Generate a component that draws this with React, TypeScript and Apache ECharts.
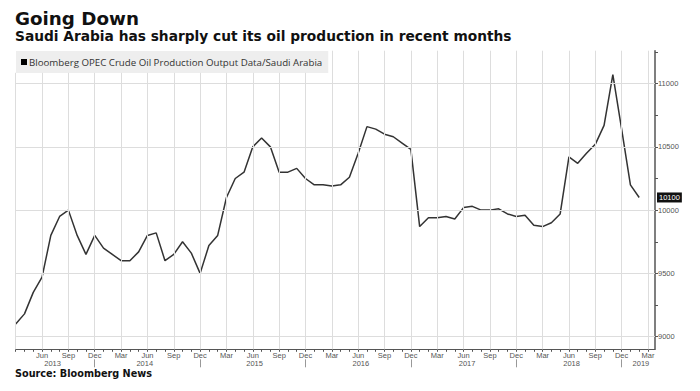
import React, { useEffect, useRef } from 'react';
import * as echarts from 'echarts';

const monthNames = ['Jan', 'Feb', 'Mar', 'Apr', 'May', 'Jun', 'Jul', 'Aug', 'Sep', 'Oct', 'Nov', 'Dec'];
const startMonthIndex = 2; // Mar 2013
const seriesName = 'Bloomberg OPEC Crude Oil Production Output Data/Saudi Arabia';

// Monthly values, Mar 2013 .. Feb 2019 (thousand barrels/day)
const production = [
  9100, 9180, 9350, 9470, 9800, 9950, 10000, 9800, 9650, 9800,
  9700, 9650, 9600, 9600, 9670, 9800, 9820, 9600, 9650, 9750, 9660, 9500,
  9720, 9800, 10100, 10250, 10300, 10500, 10570, 10500, 10300, 10300, 10330, 10250,
  10200, 10200, 10190, 10200, 10260, 10450, 10660, 10640, 10600, 10580, 10530, 10480,
  9870, 9940, 9940, 9950, 9930, 10020, 10030, 10000, 10000, 10010, 9970, 9950,
  9960, 9880, 9870, 9900, 9970, 10420, 10370, 10450, 10520, 10670, 11070, 10640,
  10200, 10100,
];

const yLabelValues = [9000, 9500, 10000, 10500, 11000];
const yTickValues = [9000, 9250, 9500, 9750, 10000, 10250, 10500, 10750, 11000, 11250];
const monthLabelIdx = [3, 6, 9, 12, 15, 18, 21, 24, 27, 30, 33, 36, 39, 42, 45, 48, 51, 54, 57, 60, 63, 66, 69, 72];
const vGridIdx = [0, 3, 6, 9, 12, 15, 18, 21, 24, 27, 30, 33, 36, 39, 42, 45, 48, 51, 54, 57, 60, 63, 66, 69, 72];
const yearLabels = ['2013', '2014', '2015', '2016', '2017', '2018', '2019'];
const yearLabelPos = [4.2, 14.7, 27.2, 39.3, 51.4, 63.3, 71.2];
const yearSeparatorIdx = [9, 21, 33, 45, 57, 69];
const lastValue = 10100;

const X_MAX = 72.8;
const Y_MIN = 8900;
const Y_MAX = 11260;
const LEGEND_LAST_IDX = 35; // vertical gridlines under the legend box stop below it
const LEGEND_BOTTOM_VALUE = 11085;
const AXIS_FONT = 'Liberation Sans';
const GRID_COLOR = '#dddddd';

export default function App() {
  const ref = useRef<HTMLDivElement>(null);
  useEffect(() => {
    if (!ref.current) return;
    const chart = echarts.init(ref.current, null, { renderer: 'svg' });
    const monthTicks = production.map((_, i) => i).concat([production.length]);
    const vLines = vGridIdx.map((x) =>
      x <= LEGEND_LAST_IDX
        ? [{ coord: [x, Y_MIN] }, { coord: [x, LEGEND_BOTTOM_VALUE] }]
        : { xAxis: x }
    );
    chart.setOption({
      animation: false,
      backgroundColor: '#ffffff',
      title: [
        {
          text: 'Going Down',
          subtext: 'Saudi Arabia has sharply cut its oil production in recent months',
          left: 10,
          top: 4,
          itemGap: 2,
          textStyle: { fontFamily: 'DejaVu Sans', fontWeight: 'bold', fontSize: 18.3, color: '#111' },
          subtextStyle: { fontFamily: 'DejaVu Sans', fontWeight: 'bold', fontSize: 13.75, color: '#111' },
        },
        {
          text: 'Source: Bloomberg News',
          left: 10,
          top: 363,
          textStyle: { fontFamily: 'DejaVu Sans', fontWeight: 'bold', fontSize: 9.7, color: '#111' },
        },
      ],
      legend: {
        data: [seriesName],
        left: 16,
        top: 51,
        icon: 'rect',
        itemWidth: 6,
        itemHeight: 6,
        padding: [6, 6, 6, 5],
        backgroundColor: '#eeeeee',
        textStyle: { fontFamily: 'Open Sans', fontSize: 9.7, color: '#333', padding: [0, 0, 0, -3] },
      },
      grid: { left: 15.7, right: 45, top: 50.7, bottom: 41.7, containLabel: false },
      xAxis: [
        {
          type: 'value',
          min: 0,
          max: X_MAX,
          interval: 3,
          axisLine: { show: true, onZero: false, lineStyle: { color: '#555', width: 1 } },
          axisTick: { show: true, customValues: monthTicks, length: 2.5, lineStyle: { color: '#555' } },
          axisLabel: {
            customValues: monthLabelIdx,
            formatter: (v: number) => monthNames[(startMonthIndex + Math.round(v)) % 12],
            fontFamily: AXIS_FONT,
            fontSize: 7.5,
            color: '#555',
            margin: 2,
          },
          splitLine: { show: false },
        },
        {
          type: 'value',
          min: 0,
          max: X_MAX,
          position: 'bottom',
          offset: 10,
          axisLine: { show: false, onZero: false },
          axisTick: { show: true, customValues: yearSeparatorIdx, length: 8, lineStyle: { color: '#999' } },
          axisLabel: {
            customValues: yearLabelPos,
            formatter: (v: number) => {
              let best = 0;
              yearLabelPos.forEach((p, i) => { if (Math.abs(p - v) < Math.abs(yearLabelPos[best] - v)) best = i; });
              return yearLabels[best];
            },
            fontFamily: AXIS_FONT,
            fontSize: 7.5,
            color: '#555',
            margin: 0,
          },
          splitLine: { show: false },
        },
      ],
      yAxis: {
        type: 'value',
        position: 'right',
        min: Y_MIN,
        max: Y_MAX,
        axisLine: { show: true, onZero: false, lineStyle: { color: '#555', width: 1.5 } },
        axisTick: { show: true, customValues: yTickValues, length: 3, lineStyle: { color: '#555' } },
        axisLabel: {
          customValues: yLabelValues,
          formatter: (v: number) => String(v),
          fontFamily: AXIS_FONT,
          fontSize: 7.5,
          color: '#555',
          margin: 3,
        },
        splitLine: { show: false },
      },
      series: [
        {
          name: 'gridlines',
          type: 'line',
          data: [],
          z: 1,
          silent: true,
          markLine: {
            silent: true,
            symbol: ['none', 'none'],
            animation: false,
            label: { show: false },
            lineStyle: { color: GRID_COLOR, width: 1, type: 'solid', opacity: 1 },
            data: [...yLabelValues.map((v) => ({ yAxis: v })), ...vLines],
          },
        },
        {
          name: seriesName,
          type: 'line',
          data: production.map((v, i) => [i, v]),
          showSymbol: false,
          symbol: 'none',
          z: 3,
          lineStyle: { color: '#333', width: 1.5 },
          itemStyle: { color: '#000' },
          markLine: {
            silent: true,
            symbol: ['none', 'none'],
            animation: false,
            lineStyle: { color: 'rgba(0,0,0,0)', width: 0 },
            label: {
              show: true,
              position: 'end',
              distance: 2,
              formatter: String(lastValue),
              backgroundColor: '#111',
              color: '#fff',
              fontFamily: AXIS_FONT,
              fontSize: 7.5,
              padding: [1, 2, 1, 2],
            },
            data: [{ yAxis: lastValue }],
          },
        },
      ],
    });
    return () => chart.dispose();
  }, []);
  return <div ref={ref} style={{ width: 700, height: 391, position: 'absolute', left: 0, top: 0 }} />;
}
